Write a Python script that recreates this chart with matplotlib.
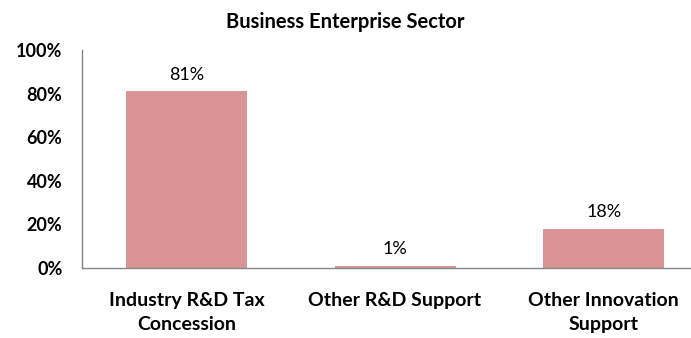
import matplotlib
matplotlib.use('Agg')
import matplotlib.pyplot as plt

# Data
categories = ['Industry R&D Tax\nConcession', 'Other R&D Support', 'Other Innovation\nSupport']
shares = [81, 1, 18]
labels = ['81%', '1%', '18%']
yticks = [0, 20, 40, 60, 80, 100]

plt.rcParams['font.family'] = ['Lato', 'DejaVu Sans']

fig = plt.figure(figsize=(6.91, 3.38), dpi=100)
ax = fig.add_axes([0.1187, 0.207, 0.906, 0.645])

x = range(len(categories))
bars = ax.bar(x, shares, width=0.58, color='#D99594')

for xi, v, lab in zip(x, shares, labels):
    ax.text(xi, v + 4, lab, ha='center', va='bottom', fontsize=13)

ax.set_xlim(-0.5, 2.5)
ax.set_ylim(0, 100)
ax.set_yticks(yticks)
ax.set_yticklabels([f'{t}%' for t in yticks], fontsize=13, fontweight='bold')
ax.set_xticks(list(x))
ax.set_xticklabels(categories, fontsize=14, fontweight='bold', linespacing=1.55)
ax.tick_params(axis='both', length=0)
ax.tick_params(axis='y', pad=14)
ax.tick_params(axis='x', pad=17)

for s in ['top', 'right']:
    ax.spines[s].set_visible(False)
for s in ['left', 'bottom']:
    ax.spines[s].set_color('#868686')
    ax.spines[s].set_linewidth(1.0)

fig.text(0.5, 0.935, 'Business Enterprise Sector', ha='center', va='center',
         fontsize=14.5, fontweight='bold')

fig.savefig('out.png', dpi=100)
